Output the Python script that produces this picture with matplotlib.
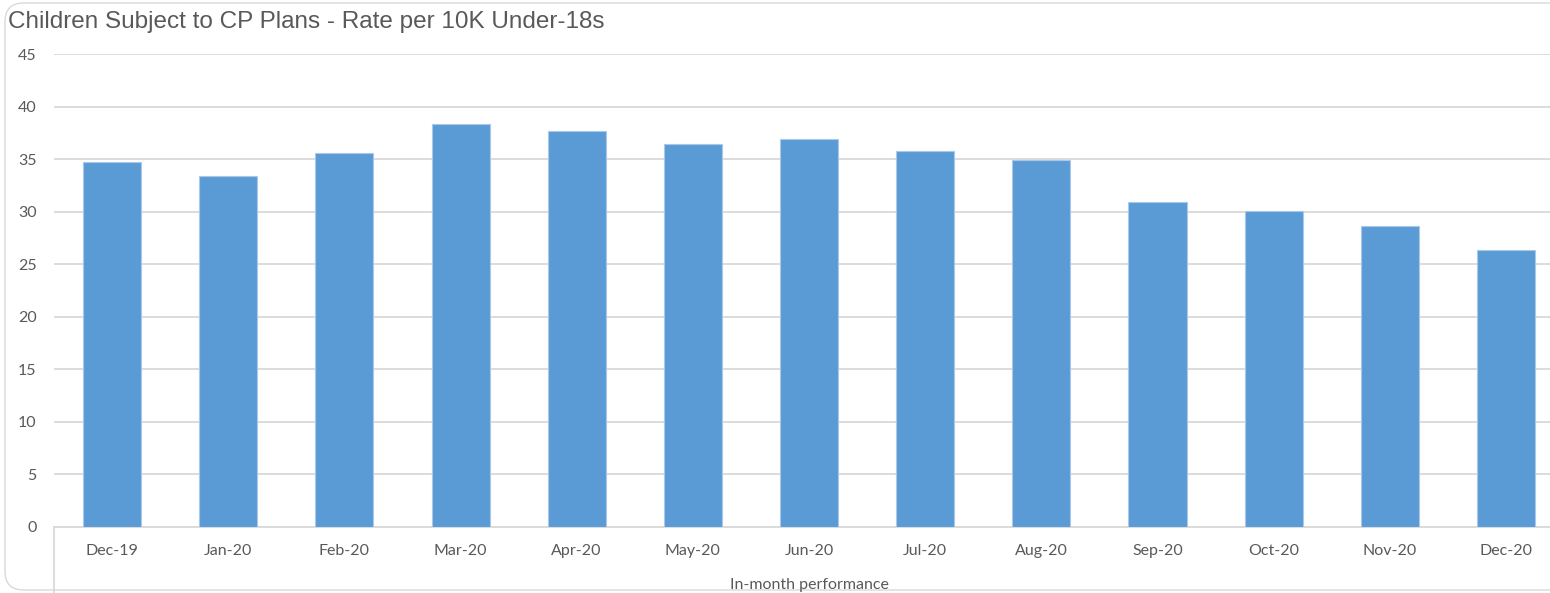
import matplotlib
matplotlib.use("Agg")
import matplotlib.pyplot as plt
from matplotlib.patches import FancyBboxPatch
from matplotlib.lines import Line2D

months = ["Dec-19", "Jan-20", "Feb-20", "Mar-20", "Apr-20", "May-20", "Jun-20",
          "Jul-20", "Aug-20", "Sep-20", "Oct-20", "Nov-20", "Dec-20"]
rate_per_10k = [34.7, 33.4, 35.6, 38.4, 37.7, 36.5, 36.9,
                35.8, 34.9, 30.9, 30.1, 28.7, 26.4]
y_ticks = [0, 5, 10, 15, 20, 25, 30, 35, 40, 45]
title = "Children Subject to CP Plans - Rate per 10K Under-18s"
group_label = "In-month performance"

W, H = 1550, 593
fig = plt.figure(figsize=(W / 100, H / 100), dpi=100)
fig.patch.set_facecolor("white")

# rounded chart frame
frame = FancyBboxPatch((5 / W, 3 / H), 1700 / W, 587 / H,
                       boxstyle="round,pad=0,rounding_size=0.012",
                       transform=fig.transFigure, fill=False,
                       edgecolor="#d9d9d9", linewidth=1.0, mutation_aspect=W / H)
fig.patches.append(frame)

left, right = 54 / W, 1564 / W
bottom, top = (H - 527) / H, (H - 54.3) / H
ax = fig.add_axes([left, bottom, right - left, top - bottom])

x = range(len(months))
ax.bar(x, rate_per_10k, width=0.5, color="#5b9bd5", edgecolor="#a9c8ea",
       linewidth=0.8, zorder=3)

ax.set_xlim(-0.5, len(months) - 0.5)
ax.set_ylim(0, 45)
ax.set_yticks(y_ticks)
ax.set_xticks(list(x))
ax.set_xticklabels(months)
ax.yaxis.grid(True, color="#d9d9d9", linewidth=1.3, zorder=0)
ax.set_axisbelow(True)
for s in ["top", "right", "left"]:
    ax.spines[s].set_visible(False)
ax.spines["bottom"].set_color("#d9d9d9")
ax.spines["bottom"].set_linewidth(1.3)
ax.tick_params(axis="both", length=0, colors="#595959", labelsize=11.5)
ax.tick_params(axis="y", pad=12.5)
ax.tick_params(axis="x", pad=12.5)
for lab in ax.get_xticklabels() + ax.get_yticklabels():
    lab.set_fontfamily("Lato")

# divider on the left of the category labels
fig.add_artist(Line2D([left, left], [0, bottom], transform=fig.transFigure,
                      color="#d9d9d9", linewidth=1.3))

fig.text((left + right) / 2, (H - 585) / H, group_label, ha="center",
         va="center", fontsize=11.5, color="#595959", family="Lato")
fig.text(8 / W, (H - 22) / H, title, ha="left", va="center", fontsize=17.5,
         color="#595959", family="Liberation Sans")

fig.savefig("out.png", dpi=100, facecolor="white")
